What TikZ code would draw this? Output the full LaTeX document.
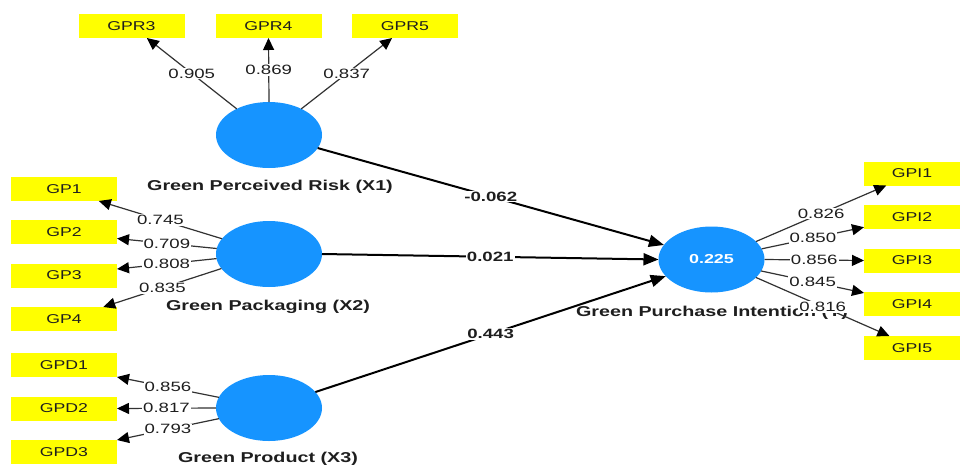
\documentclass[tikz,border=0pt]{standalone}
\usepackage{fontspec}
\setmainfont[FakeStretch=1.38]{Liberation Sans}
\usetikzlibrary{arrows.meta,shapes.geometric,calc}

\definecolor{lvblue}{RGB}{22,148,255}
\definecolor{mvyellow}{RGB}{255,255,0}
\definecolor{ink}{RGB}{30,30,30}
\definecolor{loadline}{RGB}{50,50,50}

\begin{document}
\begin{tikzpicture}[x=1pt,y=-1pt,
  latent/.style={ellipse, fill=lvblue, draw=none, minimum width=106pt,
    minimum height=66pt, inner sep=0pt, outer sep=0pt, text=white,
    font=\fontsize{13}{15}\selectfont\bfseries},
  indicator/.style={rectangle, fill=mvyellow, draw=none, minimum width=106pt,
    minimum height=24pt, inner sep=0pt, outer sep=0pt, text=ink,
    font=\fontsize{12.8}{14}\selectfont},
  indicatorR/.style={indicator, minimum width=96pt},
  cname/.style={text=ink, font=\fontsize{14.3}{16}\selectfont\bfseries, inner sep=0pt},
  loading/.style={draw=loadline, line width=1.2pt,
    -{Triangle[length=12pt,width=11pt,color=black]}},
  structural/.style={draw=black, line width=2pt, -{Triangle[length=15pt,width=12pt]}},
  lval/.style={fill=white, text=ink, font=\fontsize{13.5}{15}\selectfont, inner sep=1pt, pos=0.5},
  pval/.style={fill=white, text=ink, font=\fontsize{13.5}{15}\selectfont\bfseries, inner sep=1pt, pos=0.5},
]
\fill[white] (0,0) rectangle (962,467);
\useasboundingbox (0,0) rectangle (962,467);

% latent variables
\node[latent] (X1) at (269,135) {};
\node[latent] (X2) at (269,254) {};
\node[latent] (X3) at (269,408) {};
\node[latent] (Y) at (711.5,259.5) {0.225};

% construct names
\node[cname] (X1lab) at (270,187) {Green Perceived Risk (X1)};
\node[cname] (X2lab) at (268,307) {Green Packaging (X2)};
\node[cname] (X3lab) at (268,459) {Green Product (X3)};
\node[cname] (Ylab) at (712,313) {Green Purchase Intention (Y)};

% indicators
\node[indicator] (GPR3) at (131.5,26) {GPR3};
\node[indicator] (GPR4) at (268.5,26) {GPR4};
\node[indicator] (GPR5) at (405,26) {GPR5};

\node[indicator] (GP1) at (64,189) {GP1};
\node[indicator] (GP2) at (64,232) {GP2};
\node[indicator] (GP3) at (64,275.5) {GP3};
\node[indicator] (GP4) at (64,319) {GP4};

\node[indicator] (GPD1) at (64,365) {GPD1};
\node[indicator] (GPD2) at (64,408.5) {GPD2};
\node[indicator] (GPD3) at (64,452) {GPD3};

\node[indicatorR] (GPI1) at (912,173.5) {GPI1};
\node[indicatorR] (GPI2) at (912,217) {GPI2};
\node[indicatorR] (GPI3) at (912,260.5) {GPI3};
\node[indicatorR] (GPI4) at (912,304) {GPI4};
\node[indicatorR] (GPI5) at (912,348) {GPI5};

% outer loadings
\draw[loading] (X1.141) -- (GPR3.-38) node[lval] {0.905};
\draw[loading] (X1.90) -- (GPR4.south) node[lval] {0.869};
\draw[loading] (X1.39) -- (GPR5.-137) node[lval] {0.837};

\draw[loading] (X2.162) -- (GP1.-19) node[lval] {0.745};
\draw[loading] (X2.174) -- (GP2.-7) node[lval] {0.709};
\draw[loading] (X2.-175) -- (GP3.7) node[lval] {0.808};
\draw[loading] (X2.-163) -- (GP4.17) node[lval] {0.835};

\draw[loading] (X3.168) -- (GPD1.south east) node[lval] {0.856};
\draw[loading] (X3.180) -- (GPD2.east) node[lval] {0.817};
\draw[loading] (X3.-168) -- (GPD3.north east) node[lval] {0.793};

\draw[loading] (Y.22) -- (GPI1.-155) node[lval] {0.826};
\draw[loading] (Y.12) -- (GPI2.-168) node[lval] {0.850};
\draw[loading] (Y.0) -- (GPI3.west) node[lval] {0.856};
\draw[loading] (Y.-13) -- (GPI4.167) node[lval] {0.845};
\draw[loading] (Y.-22) -- (GPI5.152) node[lval] {0.816};

% path coefficients
\draw[structural] (X1.-15) -- (Y.163) node[pval] {-0.062};
\draw[structural] (X2.east) -- (Y.west) node[pval] {0.021};
\draw[structural] (X3.19) -- (Y.-160) node[pval] {0.443};
\end{tikzpicture}
\end{document}
